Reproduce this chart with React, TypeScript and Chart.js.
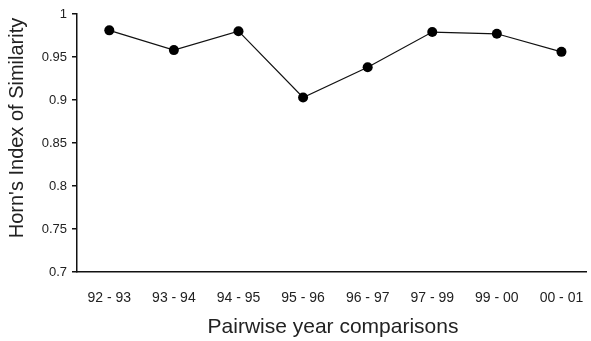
import React, { useEffect, useRef } from "react";
import { Chart, registerables } from "chart.js";

Chart.register(...registerables);

const categories = ["92 - 93", "93 - 94", "94 - 95", "95 - 96", "96 - 97", "97 - 99", "99 - 00", "00 - 01"];
const hornValues = [0.981, 0.958, 0.98, 0.903, 0.938, 0.979, 0.977, 0.956];
const yTickValues = [0.7, 0.75, 0.8, 0.85, 0.9, 0.95, 1];
const yTitle = "Horn's Index of Similarity";
const xTitle = "Pairwise year comparisons";

const FONT = "'Liberation Sans', Arial, sans-serif";
const TEXT = "#222";

const titlePlugin = {
  id: "customTitles",
  afterDraw(chart: any) {
    const ctx = chart.ctx;
    ctx.save();
    ctx.fillStyle = TEXT;
    ctx.textAlign = "center";
    ctx.textBaseline = "middle";
    ctx.font = `21px ${FONT}`;
    ctx.fillText(xTitle, 333, 327);
    ctx.font = `20px ${FONT}`;
    ctx.translate(17, 128);
    ctx.rotate(-Math.PI / 2);
    ctx.fillText(yTitle, 0, 0);
    ctx.restore();
  },
};

export default function App() {
  const ref = useRef<HTMLCanvasElement>(null);
  useEffect(() => {
    const chart = new Chart(ref.current!, {
      type: "line",
      data: {
        datasets: [
          {
            data: hornValues.map((v, i) => ({ x: i, y: v })),
            borderColor: "#111",
            borderWidth: 1.2,
            backgroundColor: "#000",
            pointBackgroundColor: "#000",
            pointBorderWidth: 0,
            pointRadius: 5,
            tension: 0,
          },
        ],
      },
      options: {
        animation: false,
        responsive: false,
        maintainAspectRatio: false,
        layout: { padding: { top: 14, left: 0, right: 0, bottom: 0 } },
        plugins: { legend: { display: false }, tooltip: { enabled: false } },
        scales: {
          x: {
            type: "linear",
            min: -0.5,
            max: 7.38,
            grid: { display: false },
            border: { display: true, color: "#111", width: 1.5 },
            afterBuildTicks: (s: any) => {
              s.ticks = categories.map((_, i) => ({ value: i }));
            },
            afterFit: (s: any) => {
              s.height = 69;
              s.paddingLeft = 0;
              s.paddingRight = 0;
            },
            ticks: {
              autoSkip: false,
              maxRotation: 0,
              padding: 10,
              color: TEXT,
              font: { family: FONT, size: 14 },
              callback: (v: any) => categories[v as number] ?? "",
            },
          },
          y: {
            min: 0.7,
            max: 1,
            grid: { display: true, drawOnChartArea: false, drawTicks: true, tickLength: 5, color: "#111", lineWidth: 1.5 },
            border: { display: true, color: "#111", width: 1.5 },
            afterBuildTicks: (s: any) => {
              s.ticks = yTickValues.map((v) => ({ value: v }));
            },
            afterFit: (s: any) => {
              s.width = 77;
              s.paddingTop = 0;
              s.paddingBottom = 0;
            },
            ticks: {
              padding: 5,
              color: TEXT,
              font: { family: FONT, size: 13 },
              callback: (v: any) => String(Number((v as number).toFixed(2))),
            },
          },
        },
      },
      plugins: [titlePlugin],
    });
    return () => chart.destroy();
  }, []);
  return (
    <div style={{ position: "fixed", left: 0, top: 0, width: 591, height: 341, background: "#fff" }}>
      <canvas ref={ref} width={591} height={341} style={{ width: 591, height: 341 }} />
    </div>
  );
}
